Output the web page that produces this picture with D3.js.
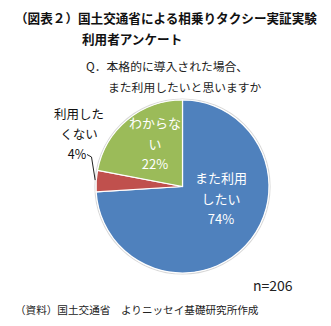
<!DOCTYPE html>
<html>
<head>
<meta charset="utf-8">
<script src="https://cdn.jsdelivr.net/npm/d3@7"></script>
<style>
  html, body { margin: 0; padding: 0; background: #fff; }
  svg { display: block; font-family: "Noto Sans CJK JP", "Noto Sans", sans-serif; }
</style>
</head>
<body>
<svg id="chart" width="331" height="326"></svg>
<script>
// Survey answers, share of respondents (%)
const categories = ["また利用したい", "利用したくない", "わからない"];
const values = [74, 4, 22];
const colors = ["#4F81BD", "#C0504D", "#9BBB59"];
// Label lines for each slice
const labelLines = [["また利用", "したい"], ["利用した", "くない"], ["わからな", "い"]];

const titleLines = ["（図表２）国土交通省による相乗りタクシー実証実験", "利用者アンケート"];
const questionLines = ["Q．本格的に導入された場合、", "また利用したいと思いますか"];
const sampleNote = "n=206";
const sourceNote = "（資料）国土交通省　よりニッセイ基礎研究所作成";

const svg = d3.select("#chart");

// Title
svg.append("text").attr("x", 15).attr("y", 23)
  .attr("font-size", 12.6).attr("font-weight", "bold").attr("fill", "#111")
  .text(titleLines[0]);
svg.append("text").attr("x", 82).attr("y", 44)
  .attr("font-size", 12.6).attr("font-weight", "bold").attr("fill", "#111")
  .text(titleLines[1]);

// Question
svg.append("text").attr("x", 86).attr("y", 71)
  .attr("font-size", 11.8).attr("fill", "#222")
  .text(questionLines[0]);
svg.append("text").attr("x", 108).attr("y", 92)
  .attr("font-size", 11.8).attr("fill", "#222")
  .text(questionLines[1]);

// Pie
const cx = 182.5, cy = 186.5, r = 86.5;
const pie = d3.pie().sort(null).value(d => d)(values);
const arc = d3.arc().innerRadius(0).outerRadius(r);
const g = svg.append("g").attr("transform", `translate(${cx},${cy})`);

g.append("circle").attr("r", r + 1).attr("fill", "none")
  .attr("stroke", "#d8d8d8").attr("stroke-width", 1.2);

g.selectAll("path.slice").data(pie).enter().append("path")
  .attr("class", "slice")
  .attr("d", arc)
  .attr("fill", (d, i) => colors[i])
  .attr("stroke", "#fff").attr("stroke-width", 1.2);

// Inside labels (white)
function insideLabel(i, px, py) {
  const lines = labelLines[i].concat([values[i] + "%"]);
  const t = svg.append("text").attr("text-anchor", "middle")
    .attr("font-size", 13).attr("fill", "#fff");
  lines.forEach((s, k) => {
    t.append("tspan").attr("x", px).attr("y", py + k * 20.5).text(s);
  });
}
insideLabel(0, 221, 183);
insideLabel(2, 155, 128);

// Outside label for the small slice, with leader line
const small = pie[1];
const mid = (small.startAngle + small.endAngle) / 2;
const ex = cx + r * Math.sin(mid), ey = cy - r * Math.cos(mid);
svg.append("path")
  .attr("d", d3.line()([[87, 154.5], [91.5, 157], [ex - 1, ey - 1]]))
  .attr("fill", "none").attr("stroke", "#222").attr("stroke-width", 1);

const tl = svg.append("text").attr("text-anchor", "middle")
  .attr("font-size", 12.5).attr("fill", "#111");
labelLines[1].concat([values[1] + "%"]).forEach((s, k) => {
  tl.append("tspan").attr("x", k === 2 ? 77 : 79).attr("y", 119 + k * 20).text(s);
});

// Sample size and source
svg.append("text").attr("x", 253).attr("y", 291)
  .attr("font-size", 14).attr("fill", "#222").text(sampleNote);
svg.append("text").attr("x", 15).attr("y", 314)
  .attr("font-size", 10.6).attr("fill", "#222").text(sourceNote);
</script>
</body>
</html>
